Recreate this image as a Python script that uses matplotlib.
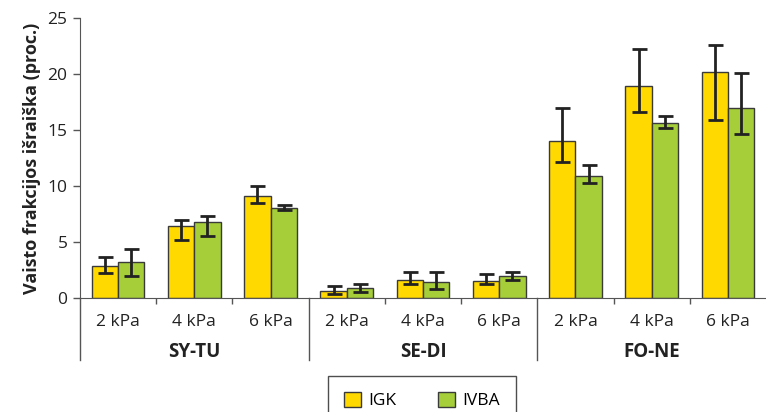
import matplotlib.pyplot as plt
from matplotlib.lines import Line2D
from matplotlib.patches import Patch
import numpy as np

plt.rcParams['font.family'] = ['Open Sans', 'DejaVu Sans']

# duomenys
groups = ["SY-TU", "SE-DI", "FO-NE"]
pressures = ["2 kPa", "4 kPa", "6 kPa"]
series = ["IGK", "IVBA"]

igk = [2.9, 6.45, 9.1, 0.6, 1.58, 1.55, 14.05, 18.9, 20.15]
igk_up = [0.8, 0.5, 0.9, 0.45, 0.75, 0.55, 2.9, 3.3, 2.4]
igk_low = [0.7, 1.25, 0.65, 0.2, 0.35, 0.3, 1.95, 2.25, 4.3]

ivba = [3.25, 6.75, 8.05, 0.87, 1.4, 1.93, 10.9, 15.6, 16.95]
ivba_up = [1.1, 0.55, 0.25, 0.35, 0.95, 0.4, 0.95, 0.65, 3.15]
ivba_low = [1.25, 1.2, 0.2, 0.35, 0.6, 0.35, 0.6, 0.45, 2.35]

yellow = "#FFD900"
green = "#A6CE39"
edge = "#3a3a3a"

fig = plt.figure(figsize=(7.66, 4.12), dpi=100)
ax = fig.add_axes([80 / 766, 1 - 298 / 412, 1 - 80 / 766, 280 / 412])

x = np.arange(len(igk))
w = 0.345
err_kw = dict(ecolor="#222222", elinewidth=2, capsize=5.4, capthick=2)
ax.bar(x - w / 2, igk, w, color=yellow, edgecolor=edge, linewidth=1,
       yerr=[igk_low, igk_up], error_kw=err_kw, label=series[0])
ax.bar(x + w / 2, ivba, w, color=green, edgecolor=edge, linewidth=1,
       yerr=[ivba_low, ivba_up], error_kw=err_kw, label=series[1])

ax.set_xlim(-0.5, len(igk) - 0.5)
ax.set_ylim(0, 25)
ax.set_yticks(range(0, 26, 5))
ax.tick_params(axis='y', labelsize=12.5, length=5, width=1, color="#555555",
               labelcolor="#222222", pad=4)
ax.set_ylabel("Vaisto frakcijos išraiška (proc.)", fontsize=13,
              fontweight='bold', color="#222222", labelpad=5)

for s in ["top", "right"]:
    ax.spines[s].set_visible(False)
ax.spines["left"].set_color("#555555")
ax.spines["bottom"].set_color("#555555")

# x ašies žymės
ax.set_xticks([])
minor = [i + 0.5 for i in range(len(igk) - 1) if (i + 1) % 3 != 0]
ax.set_xticks(minor, minor=True)
ax.tick_params(axis='x', which='minor', length=4.5, width=1, color="#555555")
tr = ax.get_xaxis_transform()
for b in [-0.5, 2.5, 5.5]:
    ax.add_line(Line2D([b, b], [0, -62 / 280], transform=tr, color="#555555",
                       linewidth=1, clip_on=False))

for i in range(len(igk)):
    ax.text(i, -24 / 280, pressures[i % 3], transform=tr, ha='center',
            va='center', fontsize=12.5, color="#222222")
for g, name in enumerate(groups):
    ax.text(g * 3 + 1, -54 / 280, name, transform=tr, ha='center',
            va='center', fontsize=13.5, fontweight='bold', color="#222222")

handles = [Patch(facecolor=yellow, edgecolor=edge), Patch(facecolor=green, edgecolor=edge)]
leg = fig.legend(handles, series, loc='upper center', ncol=2,
                 bbox_to_anchor=(422 / 766, 1 - 376 / 412), fontsize=12.5,
                 frameon=True, fancybox=False, edgecolor="#222222",
                 handlelength=1.0, handleheight=1.0, handletextpad=0.4,
                 columnspacing=2.4, borderpad=0.9, borderaxespad=0)
leg.get_frame().set_linewidth(1)

fig.savefig("out.png", dpi=100)
